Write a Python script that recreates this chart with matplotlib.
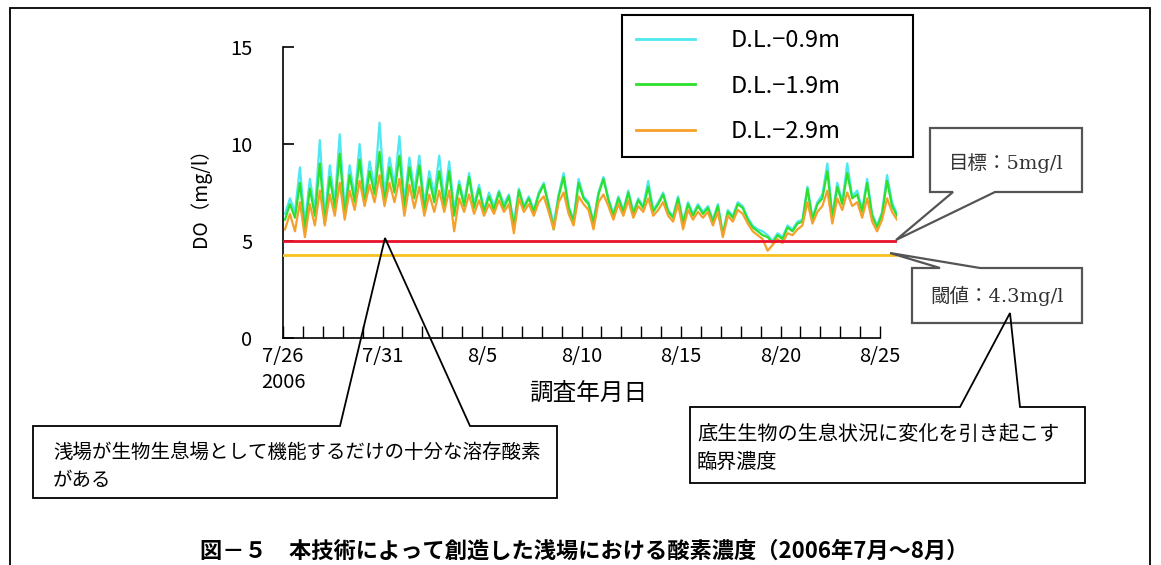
import numpy as np
import matplotlib
matplotlib.use("Agg")
import matplotlib.pyplot as plt
from matplotlib.patches import Polygon, Rectangle

plt.rcParams['font.family'] = ['Noto Sans CJK JP', 'DejaVu Sans']

# ---------------- data ----------------
series_labels = ['D.L.−0.9m', 'D.L.−1.9m', 'D.L.−2.9m']
first_sample_day = 0.1      # days after 7/26 of the first sample
sample_step_day = 0.25      # 6-hour sampling

do_09 = [6.4, 7.2, 6.5, 8.8,  5.9, 8.2, 6.6, 10.2,  6.2, 8.9, 7.0, 10.5,  6.6, 8.9, 7.3, 10.0,
         7.2, 9.1, 7.8, 11.1,  7.4, 9.3, 7.9, 10.4,  7.0, 9.3, 7.6, 9.4,  6.9, 8.6, 7.4, 9.4,
         7.1, 9.1, 6.6, 8.1,  7.0, 8.5, 6.9, 7.9,  6.6, 7.5, 6.8, 7.6,  6.9, 7.4, 5.9, 7.7,
         6.8, 7.3, 6.6, 7.5,  8.0, 6.9, 5.9, 7.4,  8.5, 6.8, 6.1, 8.2,  7.3, 7.0, 6.0, 7.5,
         8.3, 7.2, 6.4, 7.3,  6.6, 7.6, 6.5, 7.2,  6.8, 8.1, 6.6, 7.0,  7.5, 6.6, 6.3, 7.3,
         6.0, 7.0, 6.4, 6.9,  6.5, 6.8, 6.1, 6.9,  5.4, 6.6, 6.3, 7.0,  6.8, 6.2, 5.8, 5.6,
         5.5, 5.3, 5.0, 5.4,  5.2, 5.8, 5.6, 6.0,  6.1, 7.8, 6.2, 7.0,  7.4, 9.0, 6.3, 8.0,
         7.0, 9.0, 7.3, 7.6,  6.6, 8.2, 6.4, 5.8,  6.5, 8.4, 7.0, 6.4]
do_19 = [6.1, 6.9, 6.2, 8.0,  5.6, 7.7, 6.3, 9.0,  5.9, 8.3, 6.7, 9.5,  6.3, 8.4, 7.0, 9.2,
         6.9, 8.6, 7.4, 9.6,  7.0, 8.8, 7.5, 9.4,  6.7, 8.8, 7.2, 8.9,  6.6, 8.2, 7.0, 8.6,
         6.8, 8.6, 6.3, 7.9,  6.8, 8.3, 6.7, 7.7,  6.5, 7.3, 6.6, 7.5,  6.7, 7.3, 5.7, 7.6,
         6.7, 7.2, 6.5, 7.4,  7.9, 6.8, 5.6, 7.3,  8.3, 6.7, 6.0, 8.0,  7.2, 6.9, 5.9, 7.4,
         8.2, 7.1, 6.3, 7.2,  6.5, 7.5, 6.4, 7.1,  6.7, 7.8, 6.5, 6.9,  7.4, 6.5, 6.2, 7.2,
         5.9, 6.9, 6.3, 6.8,  6.4, 6.7, 6.0, 6.8,  5.3, 6.5, 6.2, 6.9,  6.7, 6.1, 5.7, 5.5,
         5.3, 5.2, 4.9, 5.3,  5.1, 5.7, 5.5, 5.9,  6.0, 7.7, 6.1, 6.9,  7.2, 8.6, 6.2, 7.8,
         6.9, 8.5, 7.2, 7.4,  6.5, 8.0, 6.3, 5.7,  6.4, 8.1, 6.8, 6.3]
do_29 = [5.6, 6.4, 5.5, 7.0,  5.2, 6.9, 5.8, 7.6,  5.8, 7.4, 6.3, 8.0,  6.1, 7.6, 6.6, 8.1,
         6.8, 7.9, 7.0, 8.4,  6.8, 8.0, 7.0, 8.2,  6.3, 7.9, 6.7, 7.8,  6.3, 7.4, 6.5, 7.6,
         6.5, 7.6, 5.5, 7.2,  6.5, 7.4, 6.4, 7.1,  6.3, 6.9, 6.4, 7.1,  6.5, 6.9, 5.4, 7.2,
         6.5, 6.9, 6.3, 7.0,  7.3, 6.5, 5.6, 7.0,  7.5, 6.4, 5.8, 7.3,  6.9, 6.6, 5.6, 7.0,
         7.4, 6.8, 6.1, 6.9,  6.3, 7.1, 6.2, 6.8,  6.5, 7.2, 6.3, 6.6,  7.0, 6.3, 6.0, 6.9,
         5.6, 6.6, 6.1, 6.5,  6.2, 6.5, 5.8, 6.5,  5.2, 6.3, 6.0, 6.6,  6.4, 5.9, 5.5, 5.3,
         5.1, 4.5, 4.8, 5.1,  4.9, 5.4, 5.3, 5.6,  5.8, 7.0, 5.9, 6.5,  6.8, 7.6, 5.9, 7.2,
         6.6, 7.5, 6.8, 7.0,  6.2, 7.2, 6.0, 5.5,  6.1, 7.2, 6.5, 6.1]

target_do = 5.0          # 目標
threshold_do = 4.3       # 閾値
tick_days = [0, 5, 10, 15, 20, 25, 30]
tick_labels = ['7/26', '7/31', '8/5', '8/10', '8/15', '8/20', '8/25']
y_ticks = [0, 5, 10, 15]

# ---------------- figure ----------------
W, H = 1161, 565
fig = plt.figure(figsize=(W / 100, H / 100), dpi=100)
fig.patch.set_facecolor('white')


def fx(x):
    return x / W


def fy(y):
    return 1 - y / H


ax = fig.add_axes([fx(283), fy(338), (897 - 283) / W, (338 - 47) / H])

t = first_sample_day + sample_step_day * np.arange(len(do_09))
colors = ['#4fe8f2', '#2ee02e', '#f5a02a']
for vals, col, lab in zip([do_09, do_19, do_29], colors, series_labels):
    ax.plot(t, vals, color=col, lw=1.6, label=lab)

x_end = t[-1]
ax.plot([0, x_end], [target_do, target_do], color='#e8102a', lw=2.0, zorder=5)
ax.plot([0, x_end], [threshold_do, threshold_do], color='#f7c11e', lw=2.0, zorder=5)

ax.set_xlim(0, x_end)
ax.set_ylim(0, 15)
for s in ['top', 'right']:
    ax.spines[s].set_visible(False)
ax.spines['bottom'].set_bounds(0, 30)
ax.spines['left'].set_linewidth(1.2)
ax.spines['bottom'].set_linewidth(1.2)

ax.set_yticks(y_ticks)
ax.set_xticks(tick_days)
ax.set_xticklabels(tick_labels)
ax.set_xticks(np.arange(0, 31, 1), minor=True)
ax.tick_params(axis='y', direction='in', length=8, width=1.2, pad=22, labelsize=14.5)
ax.tick_params(axis='x', which='both', direction='in', length=9, width=1.0, pad=6, labelsize=14.5)

ax.set_ylabel('DO（mg/l）', fontsize=14, labelpad=14)
fig.text(fx(283), fy(383), '2006', ha='center', va='center', fontsize=14.5)
fig.text(fx(588), fy(393), '調査年月日', ha='center', va='center', fontsize=17)

leg = ax.legend(loc='upper left',
                bbox_to_anchor=(fx(622), fy(158), (913 - 622) / W, (158 - 15) / H),
                bbox_transform=fig.transFigure, mode='expand', borderaxespad=0,
                fontsize=17, handlelength=2.5, handletextpad=1.5, labelspacing=0.95,
                borderpad=0.6, fancybox=False, framealpha=1)
leg.get_frame().set_edgecolor('black')
leg.get_frame().set_linewidth(1.5)
for h in leg.get_lines():
    h.set_linewidth(2.0)

# ---------------- call-outs ----------------
def callout(pts, ec, lw):
    poly = Polygon([(fx(x), fy(y)) for x, y in pts], closed=True, transform=fig.transFigure,
                   facecolor='none', edgecolor=ec, lw=lw, joinstyle='miter')
    fig.add_artist(poly)


callout([(930, 128), (1082, 128), (1082, 192), (995, 192), (896, 240), (953, 192), (930, 192)],
        '#555555', 1.6)
fig.text(fx(1006), fy(163), '目標：5mg/l', ha='center', va='center', fontsize=14,
         color='#333333', family=['DejaVu Serif', 'Noto Sans CJK JP'])

callout([(912, 268), (940, 268), (890, 253), (980, 268), (1082, 268), (1082, 323), (912, 323)],
        '#555555', 1.6)
fig.text(fx(997), fy(296), '閾値：4.3mg/l', ha='center', va='center', fontsize=14,
         color='#333333', family=['DejaVu Serif', 'Noto Sans CJK JP'])

callout([(33, 426), (340, 426), (385, 238), (470, 426), (557, 426), (557, 498), (33, 498)],
        'black', 1.3)
fig.text(fx(53), fy(452), '浅場が生物生息場として機能するだけの十分な溶存酸素',
         ha='left', va='center', fontsize=14)
fig.text(fx(53), fy(480), 'がある', ha='left', va='center', fontsize=14)

callout([(690, 407), (960, 407), (1010, 313), (1020, 407), (1085, 407), (1085, 483), (690, 483)],
        'black', 1.3)
fig.text(fx(697), fy(434), '底生生物の生息状況に変化を引き起こす',
         ha='left', va='center', fontsize=14.5)
fig.text(fx(697), fy(462), '臨界濃度', ha='left', va='center', fontsize=14.5)

fig.text(fx(584), fy(551), '図－５　本技術によって創造した浅場における酸素濃度（2006年7月～8月）',
         ha='center', va='center', fontsize=16, fontweight='bold')

# outer frame
fig.add_artist(Rectangle((fx(10), fy(600)), (1150 - 10) / W, (600 - 8) / H,
                         transform=fig.transFigure, facecolor='none',
                         edgecolor='black', lw=1.3))

fig.savefig('out.png', dpi=100)
